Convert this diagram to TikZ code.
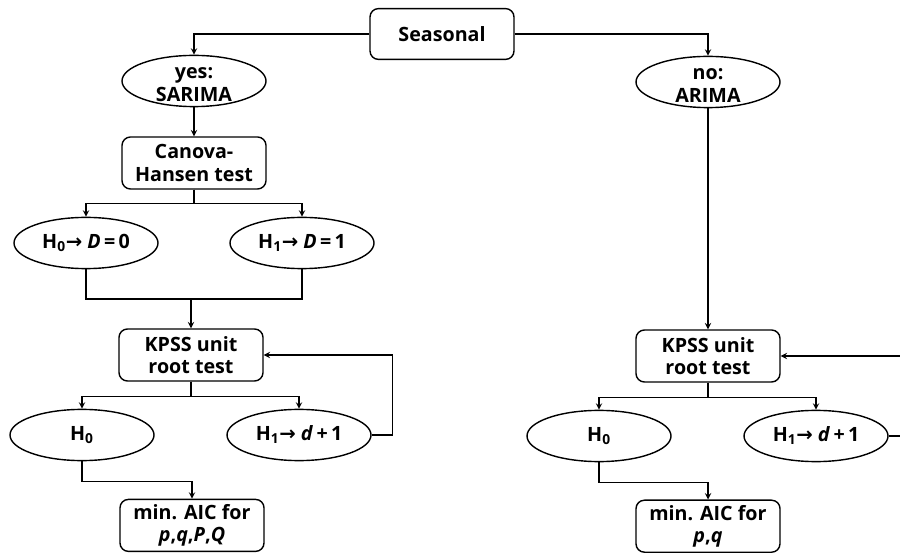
\documentclass[tikz,border=0pt]{standalone}
\usepackage{fontspec}
\setmainfont{Open Sans}
\newfontfamily\arrowfont{DejaVu Sans}
\usetikzlibrary{shapes.geometric}
\newcommand{\harr}{{\arrowfont →}}
\newcommand{\topstrut}{\rule{0pt}{13pt}}

\begin{document}
\begin{tikzpicture}[>=stealth,line width=1pt,
  font=\fontsize{14}{16}\selectfont\bfseries,
  box/.style={draw,rounded corners=6pt,align=center,minimum width=3.6cm,minimum height=1.3cm,inner sep=1pt},
  oval/.style={draw,ellipse,align=center,minimum width=3.6cm,minimum height=1.28cm,inner xsep=0pt,inner ysep=-3pt}]
 \clip (0,0) rectangle (22.5,13.825);
 \node[box,minimum height=1.27cm] (seas) at (11.05,12.975) {Seasonal};
 \node[oval] (yes) at (4.85,11.8) {\topstrut yes:\\SARIMA};
 \node[oval] (no) at (17.7,11.775) {\topstrut no:\\ARIMA};
 \node[box] (canova) at (4.85,9.75) {Canova-\\Hansen test};
 \node[oval] (hdz) at (2.15,7.75) {H\textsubscript{0}\harr{} \textit{D}\,=\,0};
 \node[oval] (hdo) at (7.55,7.75) {H\textsubscript{1}\harr{} \textit{D}\,=\,1};
 \node[box] (kpssL) at (4.775,4.95) {KPSS unit\\root test};
 \node[oval] (hzL) at (2.05,2.95) {H\textsubscript{0}};
 \node[oval] (hoL) at (7.475,2.95) {H\textsubscript{1}\harr{} \textit{d}\,+\,1};
 \node[box] (aicL) at (4.8,0.69) {min. AIC for\\\textit{p},\textit{q},\textit{P},\textit{Q}};
 \node[box] (kpssR) at (17.7,4.925) {KPSS unit\\root test};
 \node[oval] (hzR) at (14.975,2.925) {H\textsubscript{0}};
 \node[oval] (hoR) at (20.4,2.925) {H\textsubscript{1}\harr{} \textit{d}\,+\,1};
 \node[box] (aicR) at (17.7,0.67) {min. AIC for\\\textit{p},\textit{q}};
 \coordinate (join) at (4.775,6.35);
 \draw[->] (seas.west) -| (yes.north);
 \draw[->] (seas.east) -| (no.north);
 \draw[->] (yes) -- (canova);
 \draw[->] (canova.south) -- ++(0,-0.35) -| (hdz.north);
 \draw[->] (canova.south) -- ++(0,-0.35) -| (hdo.north);
 \draw (hdz.south) |- (join) -| (hdo.south);
 \draw[->] (join) -- (kpssL);
 \draw[->] (kpssL.south) -- ++(0,-0.375) -| (hzL.north);
 \draw[->] (kpssL.south) -- ++(0,-0.375) -| (hoL.north);
 \draw[->] (hoL.east) -- ++(0.525,0) |- (kpssL.east);
 \draw[->] (hzL.south) -- ++(0,-0.5) -| (aicL.north);
 \draw[->] (no) -- (kpssR);
 \draw[->] (kpssR.south) -- ++(0,-0.375) -| (hzR.north);
 \draw[->] (kpssR.south) -- ++(0,-0.375) -| (hoR.north);
 \draw[->] (hoR.east) -- ++(0.6,0) |- (kpssR.east);
 \draw[->] (hzR.south) -- ++(0,-0.5) -| (aicR.north);
\end{tikzpicture}
\end{document}
